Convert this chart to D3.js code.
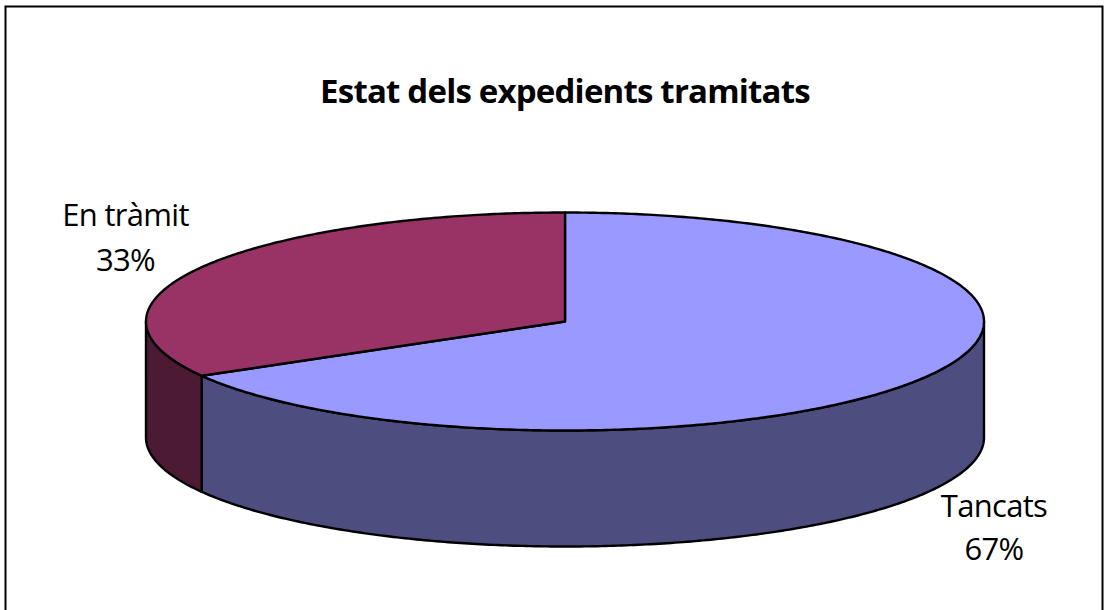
<!DOCTYPE html>
<html><head><meta charset="utf-8">
<script src="https://cdn.jsdelivr.net/npm/d3@7"></script>
<style>html,body{margin:0;padding:0;background:#fff}svg{display:block}text{font-family:"Open Sans","Noto Sans",sans-serif;fill:#000}</style>
</head><body><svg id="c" width="1105" height="610"></svg>
<script>
const categories = ["Tancats", "En tràmit"];
const shares = [66.7, 33.3];
const percentLabels = ["67%", "33%"];
const topColors = ["#9999FF", "#993366"];
const sideColors = ["#4D4D80", "#4D1A33"];
const titleText = "Estat dels expedients tramitats";

const svg = d3.select("#c");
svg.append("rect").attr("x",5.5).attr("y",6.5).attr("width",1097).attr("height",640)
  .attr("fill","#fff").attr("stroke","#000").attr("stroke-width",2);

const cx = 565, cy = 321.5, rx = 419, ry = 109, depth = 116;
const px = d3.scaleLinear().domain([-1,1]).range([cx-rx,cx+rx]);
const py = d3.scaleLinear().domain([-1,1]).range([cy-ry,cy+ry]);
const pie = d3.pie().sort(null).startAngle(0).endAngle(2*Math.PI);
const arcs = pie(shares);
const line = d3.line().x(d=>d[0]).y(d=>d[1]);
const pt = (a,dz=0)=>[px(Math.sin(a)), py(-Math.cos(a))+dz];
const samples = (a0,a1)=>{const n=Math.max(2,Math.ceil(Math.abs(a1-a0)/0.01));return d3.range(n+1).map(i=>a0+(a1-a0)*i/n);};

arcs.forEach((d,i)=>{
  const a0=Math.max(d.startAngle,Math.PI/2), a1=Math.min(d.endAngle,3*Math.PI/2);
  if(a1<=a0) return;
  const s=samples(a0,a1);
  const p=[...s.map(a=>pt(a)),...s.slice().reverse().map(a=>pt(a,depth))];
  svg.append("path").attr("d",line(p)+"Z").attr("fill",sideColors[i])
    .attr("stroke","#000").attr("stroke-width",2.4).attr("stroke-linejoin","round");
});
arcs.forEach((d,i)=>{
  const p=[[px(0),py(0)],...samples(d.startAngle,d.endAngle).map(a=>pt(a))];
  svg.append("path").attr("d",line(p)+"Z").attr("fill",topColors[i])
    .attr("stroke","#000").attr("stroke-width",2.4).attr("stroke-linejoin","round");
});

svg.append("text").attr("x",565).attr("y",103).attr("text-anchor","middle")
  .attr("font-size",33).attr("font-weight",700).attr("letter-spacing",-0.8).text(titleText);
const labelPos=[[994,517,560],[125.5,226,271]];
categories.forEach((c,i)=>{
  const [x,y1,y2]=labelPos[i];
  svg.append("text").attr("x",x).attr("y",y1).attr("text-anchor","middle").attr("font-size",31).attr("letter-spacing",-0.7).text(c);
  svg.append("text").attr("x",x).attr("y",y2).attr("text-anchor","middle").attr("font-size",31).attr("letter-spacing",-0.7).text(percentLabels[i]);
});
</script></body></html>
